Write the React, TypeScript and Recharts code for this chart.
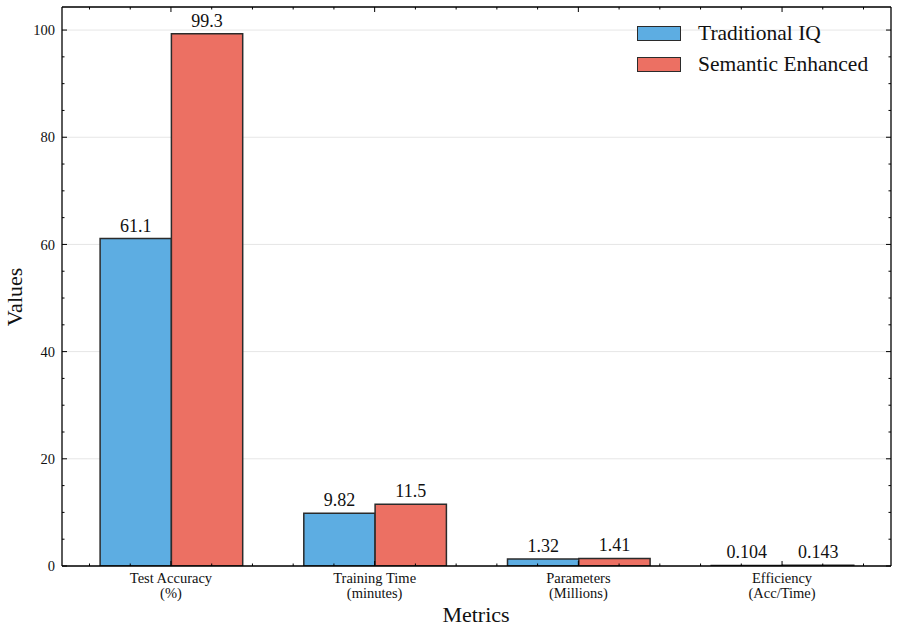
import React from 'react';
import {
  BarChart,
  Bar,
  XAxis,
  YAxis,
  CartesianGrid,
  LabelList,
} from 'recharts';

// data
const metrics = ['Test Accuracy', 'Training Time', 'Parameters', 'Efficiency'];
const metricUnits = ['(%)', '(minutes)', '(Millions)', '(Acc/Time)'];
const traditionalIQ = [61.1, 9.82, 1.32, 0.104];
const semanticEnhanced = [99.3, 11.5, 1.41, 0.143];

const majorYTicks = [0, 20, 40, 60, 80, 100];
const minorYTicks = [5, 10, 15, 25, 30, 35, 45, 50, 55, 65, 70, 75, 85, 90, 95];
const minorXTicks = [-0.4, -0.2, 0.2, 0.4, 0.6, 0.8, 1.2, 1.4, 1.6, 1.8, 2.2, 2.4, 2.6, 2.8, 3.2, 3.4];

const SERIES = [
  { key: 'traditional', name: 'Traditional IQ', color: '#5DADE2' },
  { key: 'semantic', name: 'Semantic Enhanced', color: '#EC7063' },
];

const FONT = '"Liberation Serif", "DejaVu Serif", serif';
const EDGE = '#2b2b2b';
const Y_DOMAIN: [number, number] = [0, 104.3];
const X_DOMAIN: [number, number] = [-0.535, 3.535];
const THIN = 0.001; // axes take no room, margins set the plot box

const chartData = metrics.map((m, i) => ({
  metric: m,
  pos: i,
  traditional: traditionalIQ[i],
  semantic: semanticEnhanced[i],
}));

const blank = () => '';

// two line category label
const CategoryTick = ({ x, y, payload, index }: any) => (
  <text x={x} y={y} textAnchor="middle" fontSize={14.5} fontFamily={FONT} fill="#111">
    <tspan x={x} dy="0.7em">{payload.value}</tspan>
    <tspan x={x} dy="1.0em">{metricUnits[index]}</tspan>
  </text>
);

const LegendBox = () => (
  <div
    style={{
      position: 'absolute',
      left: 637,
      top: 18,
      fontFamily: FONT,
      fontSize: 21.5,
      color: '#111',
    }}
  >
    {SERIES.map((s) => (
      <div key={s.key} style={{ display: 'flex', alignItems: 'center', height: 31 }}>
        <div
          style={{
            width: 42,
            height: 13,
            background: s.color,
            border: `1.5px solid ${EDGE}`,
            marginRight: 17,
          }}
        />
        <span>{s.name}</span>
      </div>
    ))}
  </div>
);

export default function App() {
  return (
    <div style={{ position: 'relative', width: 897, height: 635, background: '#fff' }}>
      <style>{'body{margin:0}'}</style>
      <BarChart
        width={897}
        height={635}
        data={chartData}
        margin={{ top: 7, right: 6, bottom: 69, left: 62 }}
        barGap={0}
        barSize={71.3}
      >
        <CartesianGrid vertical={false} stroke="#e6e6e6" xAxisId="cat" yAxisId="main" />
        <XAxis
          xAxisId="cat"
          dataKey="metric"
          height={THIN}
          padding={{ left: 7.1, right: 7.1 }}
          tickSize={-5}
          tickMargin={12}
          axisLine={{ stroke: '#000', strokeWidth: 1.3 }}
          tickLine={{ stroke: '#000' }}
          tick={<CategoryTick />}
          interval={0}
        />
        <XAxis
          xAxisId="catTop"
          dataKey="metric"
          orientation="top"
          height={THIN}
          padding={{ left: 7.1, right: 7.1 }}
          tickSize={-5}
          tickFormatter={blank}
          axisLine={{ stroke: '#000', strokeWidth: 1.3 }}
          tickLine={{ stroke: '#000' }}
          interval={0}
        />
        <XAxis
          xAxisId="minorB"
          dataKey="pos"
          type="number"
          scale="linear"
          domain={X_DOMAIN}
          allowDataOverflow
          ticks={minorXTicks}
          height={THIN}
          tickSize={-2.5}
          tickFormatter={blank}
          axisLine={false}
          tickLine={{ stroke: '#000' }}
          interval={0}
        />
        <XAxis
          xAxisId="minorT"
          dataKey="pos"
          type="number"
          scale="linear"
          orientation="top"
          domain={X_DOMAIN}
          allowDataOverflow
          ticks={minorXTicks}
          height={THIN}
          tickSize={-2.5}
          tickFormatter={blank}
          axisLine={false}
          tickLine={{ stroke: '#000' }}
          interval={0}
        />
        <YAxis
          yAxisId="main"
          domain={Y_DOMAIN}
          allowDataOverflow
          ticks={majorYTicks}
          width={THIN}
          tickSize={-5}
          tickMargin={12}
          axisLine={{ stroke: '#000', strokeWidth: 1.3 }}
          tickLine={{ stroke: '#000' }}
          tick={{ fontSize: 14.5, fontFamily: FONT, fill: '#111' }}
          interval={0}
        />
        <YAxis
          yAxisId="minorL"
          domain={Y_DOMAIN}
          allowDataOverflow
          ticks={minorYTicks}
          width={THIN}
          tickSize={-2.5}
          tickFormatter={blank}
          axisLine={false}
          tickLine={{ stroke: '#000' }}
          interval={0}
        />
        <YAxis
          yAxisId="right"
          orientation="right"
          domain={Y_DOMAIN}
          allowDataOverflow
          ticks={majorYTicks}
          width={THIN}
          tickSize={-5}
          tickFormatter={blank}
          axisLine={{ stroke: '#000', strokeWidth: 1.3 }}
          tickLine={{ stroke: '#000' }}
          interval={0}
        />
        <YAxis
          yAxisId="minorR"
          orientation="right"
          domain={Y_DOMAIN}
          allowDataOverflow
          ticks={minorYTicks}
          width={THIN}
          tickSize={-2.5}
          tickFormatter={blank}
          axisLine={false}
          tickLine={{ stroke: '#000' }}
          interval={0}
        />
        {SERIES.map((s) => (
          <Bar
            key={s.key}
            xAxisId="cat"
            yAxisId="main"
            dataKey={s.key}
            name={s.name}
            fill={s.color}
            stroke={EDGE}
            strokeWidth={1.5}
            isAnimationActive={false}
          >
            <LabelList
              dataKey={s.key}
              position="top"
              offset={7}
              formatter={(v: any) => Number(v).toPrecision(3)}
              style={{ fontSize: 18, fontFamily: FONT, fill: '#111' }}
            />
          </Bar>
        ))}
      </BarChart>
      <LegendBox />
      <div
        style={{
          position: 'absolute',
          left: 15,
          top: 297,
          transform: 'translate(-50%, -50%) rotate(-90deg)',
          fontFamily: FONT,
          fontSize: 22,
          color: '#111',
          whiteSpace: 'nowrap',
        }}
      >
        Values
      </div>
      <div
        style={{
          position: 'absolute',
          left: 476,
          top: 602,
          transform: 'translateX(-50%)',
          fontFamily: FONT,
          fontSize: 22,
          color: '#111',
          whiteSpace: 'nowrap',
        }}
      >
        Metrics
      </div>
    </div>
  );
}
